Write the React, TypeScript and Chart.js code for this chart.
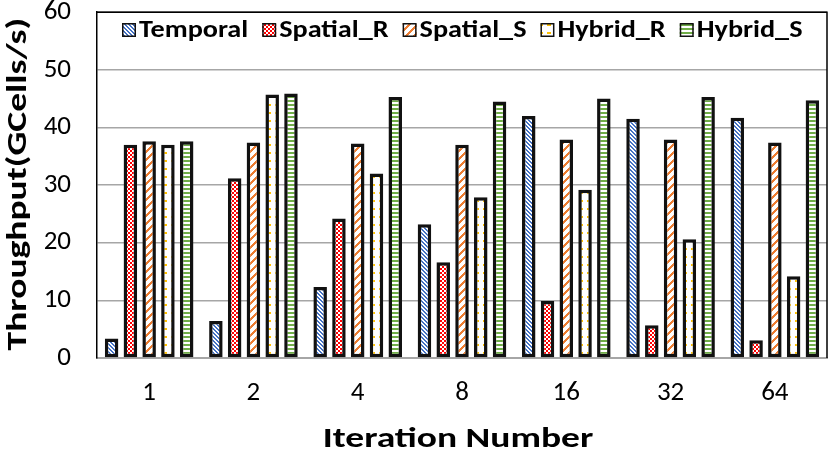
import React, { useEffect, useRef } from 'react';
import { Chart, registerables } from 'chart.js';

Chart.register(...registerables);

const categories = ['1', '2', '4', '8', '16', '32', '64'];
const seriesNames = ['Temporal', 'Spatial_R', 'Spatial_S', 'Hybrid_R', 'Hybrid_S'];
const temporal = [3.4, 6.4, 12.3, 23.2, 42.0, 41.5, 41.7];
const spatialR = [37.0, 31.2, 24.2, 16.6, 9.9, 5.7, 3.1];
const spatialS = [37.6, 37.4, 37.2, 37.0, 37.9, 37.9, 37.4];
const hybridR = [37.0, 45.7, 32.0, 27.9, 29.2, 20.6, 14.2];
const hybridS = [37.6, 45.9, 45.3, 44.5, 45.0, 45.3, 44.7];
const yMin = 0;
const yMax = 60;
const yStep = 10;
const xTitle = 'Iteration Number';
const yTitle = 'Throughput(GCells/s)';

const FONT = "Carlito, Lato, 'Liberation Sans', sans-serif";

// pixel based fills, roughly like Excel's pattern fills
function makePattern(w: number, h: number, color: string, on: (x: number, y: number) => boolean) {
  const c = document.createElement('canvas');
  c.width = w;
  c.height = h;
  const g = c.getContext('2d')!;
  g.fillStyle = '#ffffff';
  g.fillRect(0, 0, w, h);
  g.fillStyle = color;
  for (let y = 0; y < h; y++) {
    for (let x = 0; x < w; x++) {
      if (on(x, y)) g.fillRect(x, y, 1, 1);
    }
  }
  return g.createPattern(c, 'repeat') as CanvasPattern;
}

// text in the source figure is wider than the font, so draw it stretched
function stretchedText(c: CanvasRenderingContext2D, text: string, x: number, y: number, sx: number, rotate = 0) {
  c.save();
  c.translate(x, y);
  if (rotate) c.rotate(rotate);
  c.scale(sx, 1);
  c.fillText(text, 0, 0);
  c.restore();
}

const App: React.FC = () => {
  const chartRef = useRef<HTMLCanvasElement>(null);
  const chartInstance = useRef<Chart | null>(null);

  useEffect(() => {
    if (!chartRef.current) return;
    const ctx = chartRef.current.getContext('2d');
    if (!ctx) return;
    if (chartInstance.current) chartInstance.current.destroy();

    const fills = [
      makePattern(4, 4, '#4472C4', (x, y) => (((x - y) % 4) + 4) % 4 < 2),
      makePattern(4, 4, '#FF0000', (x, y) => ((x >> 1) + (y >> 1)) % 2 === 0),
      makePattern(8, 8, '#ED7D31', (x, y) => (x + y) % 8 < 3),
      makePattern(8, 8, '#FFC000', (x, y) => (y === 0 || y === 1) && x >= 3 && x <= 6),
      makePattern(1, 4, '#70AD47', (_x, y) => y < 2),
    ];
    const values = [temporal, spatialR, spatialS, hybridR, hybridS];

    const decorPlugin = {
      id: 'decor',
      afterDraw(chart: Chart) {
        const { ctx: c, chartArea: a } = chart;
        c.save();
        // top and right frame
        c.strokeStyle = '#000';
        c.lineWidth = 1.5;
        c.beginPath();
        c.moveTo(a.left, a.top);
        c.lineTo(a.right, a.top);
        c.lineTo(a.right, a.bottom);
        c.stroke();

        // axis titles
        c.fillStyle = '#000';
        c.font = `bold 28px ${FONT}`;
        c.textAlign = 'center';
        c.textBaseline = 'alphabetic';
        stretchedText(c, xTitle, 458, 447, 1.34);
        c.textBaseline = 'middle';
        stretchedText(c, yTitle, 19, (a.top + a.bottom) / 2 - 1, 1.34, -Math.PI / 2);

        // legend inside the plot area
        const sx = 1.2;
        c.font = `bold 23.5px ${FONT}`;
        c.textAlign = 'left';
        c.textBaseline = 'alphabetic';
        let x = a.left + 25;
        const boxY = 23;
        chart.data.datasets.forEach((ds: any) => {
          c.fillStyle = ds.backgroundColor;
          c.fillRect(x, boxY, 14, 14);
          c.strokeStyle = '#111';
          c.lineWidth = 1.5;
          c.strokeRect(x + 0.75, boxY + 0.75, 12.5, 12.5);
          c.fillStyle = '#000';
          const tx = x + 17;
          stretchedText(c, ds.label, tx, 37.3, sx);
          x = tx + c.measureText(ds.label).width * sx + 14;
        });
        c.restore();
      },
    };

    chartInstance.current = new Chart(ctx, {
      type: 'bar',
      data: {
        labels: categories,
        datasets: seriesNames.map((name, i) => ({
          label: name,
          data: values[i],
          backgroundColor: fills[i],
          borderColor: '#111',
          borderWidth: 3.5,
          borderSkipped: false,
          categoryPercentage: 0.9,
          barPercentage: 0.72,
        })),
      },
      options: {
        responsive: true,
        maintainAspectRatio: false,
        animation: false,
        layout: { padding: { left: 0, right: 4, top: 0, bottom: 0 } },
        scales: {
          x: {
            grid: { display: false, drawTicks: false },
            border: { display: true, color: '#a6a6a6', width: 2 },
            ticks: {
              color: '#000',
              padding: 22,
              font: { family: FONT, size: 27, lineHeight: 1 },
            },
            afterFit: (scale: any) => {
              scale.height = 99;
            },
          },
          y: {
            min: yMin,
            max: yMax,
            grid: {
              color: '#a6a6a6',
              lineWidth: 1.5,
              drawTicks: true,
              tickLength: 26,
              tickColor: 'rgba(0,0,0,0)',
            },
            border: { display: true, color: '#000', width: 1.5 },
            ticks: {
              stepSize: yStep,
              color: '#000',
              padding: 0,
              font: { family: FONT, size: 27, lineHeight: 0.9 },
            },
            afterFit: (scale: any) => {
              scale.width = 97;
            },
          },
        },
        plugins: {
          legend: { display: false },
          tooltip: { enabled: false },
        },
      },
      plugins: [decorPlugin],
    } as any);

    return () => {
      if (chartInstance.current) {
        chartInstance.current.destroy();
        chartInstance.current = null;
      }
    };
  }, []);

  return (
    <div style={{ position: 'absolute', left: 0, top: 0, width: 831, height: 457, background: '#fff' }}>
      <canvas ref={chartRef} />
    </div>
  );
};

export default App;
